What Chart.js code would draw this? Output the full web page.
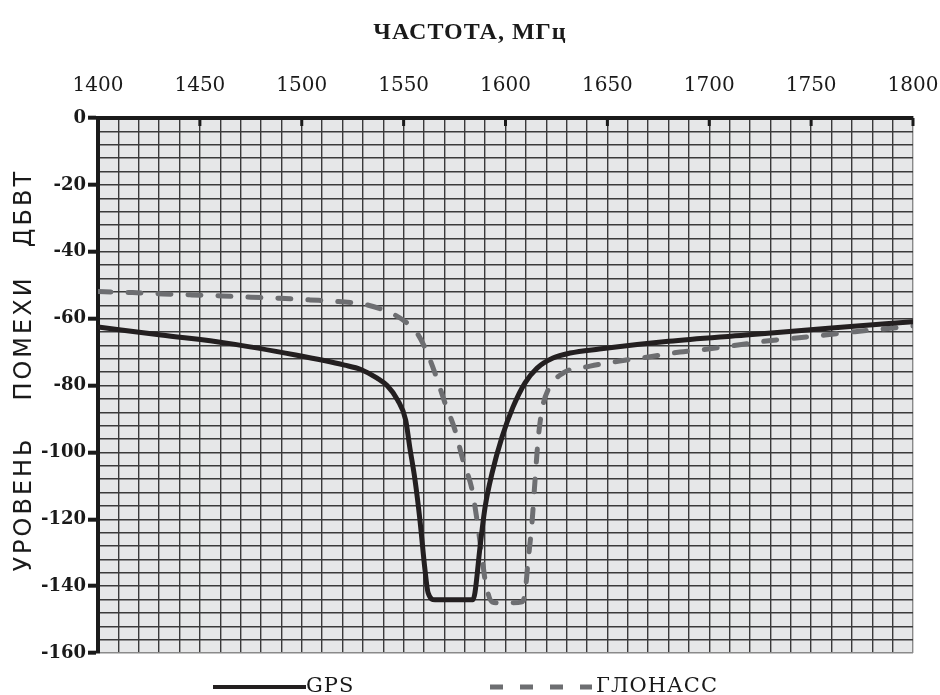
<!DOCTYPE html>
<html>
<head>
<meta charset="utf-8">
<script src="https://cdn.jsdelivr.net/npm/chart.js@4.4.1/dist/chart.umd.min.js"></script>
<style>
  html, body { margin: 0; padding: 0; background: #ffffff; }
  #wrap { width: 940px; height: 695px; position: relative; }
</style>
</head>
<body>
<div id="wrap"><canvas id="c"></canvas></div>
<script>
// ---- data ----
const gpsFreq = [1400,1431,1464,1497,1521,1529,1537,1542,1547,1551,1553,1555.6,1558,1560.5,1562,1565.4,1575,1584,1585,1587.5,1590,1593.4,1598.3,1603.7,1609.6,1615.5,1623.3,1631.7,1646,1680,1718,1760,1800];
const gpsLevel = [-62.5,-64.9,-67.4,-70.9,-73.9,-75.2,-77.8,-80.1,-84.3,-90.3,-98.4,-108.3,-120.2,-135.2,-142.0,-144.1,-144.1,-144.1,-142.0,-128.3,-116.3,-106.2,-95.4,-86.4,-79.2,-74.8,-71.8,-70.3,-69.1,-66.8,-64.9,-62.8,-60.9];

const glonassFreq = [1400,1417,1432,1446,1461,1475,1489,1504,1518,1532,1544,1551,1556.6,1561,1565.4,1570.3,1575.2,1579.1,1583.6,1586,1588.5,1590,1593.4,1597.3,1603,1608.1,1609.6,1611,1613,1614.5,1616,1617.9,1620.9,1628.2,1641.5,1656,1671,1685.6,1699.4,1714,1728,1742.8,1756.8,1771.5,1785.3,1800];
const glonassLevel = [-51.9,-52.2,-52.6,-52.9,-53.2,-53.6,-53.9,-54.4,-54.9,-55.9,-58.4,-61.0,-64.3,-69.4,-76.3,-85.2,-93.3,-102.3,-111.2,-120.2,-131.3,-138.2,-144.7,-145.0,-145.0,-144.7,-142.0,-133.1,-121.1,-108.3,-96.3,-87.3,-81.3,-76.3,-74.2,-72.7,-71.4,-70.0,-69.1,-67.9,-66.7,-65.8,-64.9,-63.9,-63.1,-62.2];

const freqTicks = [1400,1450,1500,1550,1600,1650,1700,1750,1800];
const levelTicks = [0,-20,-40,-60,-80,-100,-120,-140,-160];

const seriesNames = ['GPS', 'ГЛОНАСС'];
const xTitle = 'ЧАСТОТА, МГц';
const yTitleWords = ['УРОВЕНЬ', 'ПОМЕХИ', 'ДБВТ'];

// ---- styles ----
const GPS_COLOR = '#231f20';
const GLO_COLOR = '#6d6e71';
const GRID_COLOR = '#3a3a3a';
const PLOT_BG = '#e6e7e8';

const toPts = (xs, ys) => xs.map((x, i) => ({ x: x, y: ys[i] }));

const decor = {
  id: 'decor',
  beforeDraw(chart) {
    const a = chart.chartArea, ctx = chart.ctx;
    ctx.save();
    ctx.fillStyle = PLOT_BG;
    ctx.fillRect(a.left, a.top, a.right - a.left, a.bottom - a.top);
    ctx.restore();
  },
  afterDatasetsDraw(chart) {
    const ctx = chart.ctx, xs = chart.scales.x, a = chart.chartArea;
    ctx.save();
    ctx.fillStyle = '#1a1a1a';
    freqTicks.forEach(f => {
      const px = xs.getPixelForValue(f);
      ctx.fillRect(px - 1.5, a.top, 3, 8);
    });
    ctx.restore();
  },
  afterDraw(chart) {
    const ctx = chart.ctx;
    ctx.save();
    // top title
    ctx.fillStyle = '#1a1a1a';
    ctx.font = 'bold 24px "Liberation Serif"';
    ctx.letterSpacing = '1px';
    ctx.textAlign = 'center';
    ctx.textBaseline = 'middle';
    ctx.fillText(xTitle, 470, 33);

    // left rotated title, words placed along the axis
    ctx.font = '24px "DejaVu Sans"';
    ctx.letterSpacing = '3px';
    const centers = [504, 338, 208];
    yTitleWords.forEach((w, i) => {
      ctx.save();
      ctx.translate(24, centers[i]);
      ctx.rotate(-Math.PI / 2);
      ctx.textAlign = 'center';
      ctx.textBaseline = 'middle';
      ctx.fillText(w, 0, 1);
      ctx.restore();
    });
    ctx.letterSpacing = '0px';

    // legend
    const ly = 687;
    ctx.lineCap = 'butt';
    ctx.strokeStyle = GPS_COLOR;
    ctx.lineWidth = 4;
    ctx.beginPath(); ctx.moveTo(213, ly); ctx.lineTo(306, ly); ctx.stroke();
    ctx.strokeStyle = GLO_COLOR;
    ctx.lineWidth = 5;
    ctx.setLineDash([13, 17]);
    ctx.beginPath(); ctx.moveTo(490, ly); ctx.lineTo(592, ly); ctx.stroke();
    ctx.setLineDash([]);
    ctx.fillStyle = '#1a1a1a';
    ctx.font = '21px "DejaVu Serif"';
    ctx.textAlign = 'left';
    ctx.textBaseline = 'middle';
    ctx.letterSpacing = '1px';
    ctx.fillText(seriesNames[0], 306, ly);
    ctx.fillText(seriesNames[1], 596, ly);
    ctx.restore();
  }
};

new Chart(document.getElementById('c'), {
  type: 'line',
  data: {
    datasets: [
      {
        label: seriesNames[0],
        data: toPts(gpsFreq, gpsLevel),
        borderColor: GPS_COLOR,
        borderWidth: 5,
        pointRadius: 0,
        fill: false,
        cubicInterpolationMode: 'monotone',
        borderJoinStyle: 'round',
        borderCapStyle: 'round'
      },
      {
        label: seriesNames[1],
        data: toPts(glonassFreq, glonassLevel),
        borderColor: GLO_COLOR,
        borderWidth: 5,
        pointRadius: 0,
        fill: false,
        cubicInterpolationMode: 'monotone',
        borderDash: [13, 17],
        borderCapStyle: 'round',
        borderJoinStyle: 'round'
      }
    ]
  },
  options: {
    responsive: true,
    maintainAspectRatio: false,
    animation: false,
    layout: { padding: { left: 0, right: 27, top: 0, bottom: 42 } },
    plugins: { legend: { display: false }, tooltip: { enabled: false }, title: { display: false } },
    scales: {
      x: {
        type: 'linear',
        position: 'top',
        min: 1400, max: 1800,
        afterFit: s => { s.height = 118; s.paddingLeft = 0; s.paddingRight = 0; },
        ticks: {
          stepSize: 10,
          autoSkip: false,
          maxRotation: 0,
          padding: 20,
          color: '#1a1a1a',
          font: { family: '"DejaVu Serif"', size: 20 },
          callback: v => freqTicks.includes(v) ? String(v) : ''
        },
        grid: {
          color: ctx => (ctx.tick && ctx.tick.value === 1800) ? '#8a8a8a' : GRID_COLOR,
          lineWidth: 1.4,
          drawTicks: false
        },
        border: { display: true, color: '#1a1a1a', width: 4 }
      },
      y: {
        type: 'linear',
        min: -160, max: 0,
        afterFit: s => { s.width = 98; s.paddingTop = 0; s.paddingBottom = 0; },
        ticks: {
          stepSize: 4,
          autoSkip: false,
          padding: 2,
          color: '#1a1a1a',
          font: { family: '"DejaVu Serif"', size: 18, weight: 'bold' },
          callback: v => levelTicks.includes(v) ? String(v) : ''
        },
        grid: {
          color: ctx => (ctx.tick && ctx.tick.value === -160) ? '#8a8a8a' : GRID_COLOR,
          lineWidth: 1.4,
          drawTicks: true,
          tickLength: 10,
          tickWidth: 4,
          tickColor: ctx => (ctx.tick && levelTicks.includes(ctx.tick.value)) ? '#1a1a1a' : 'rgba(0,0,0,0)'
        },
        border: { display: true, color: '#1a1a1a', width: 4 }
      }
    }
  },
  plugins: [decor]
});
</script>
</body>
</html>
